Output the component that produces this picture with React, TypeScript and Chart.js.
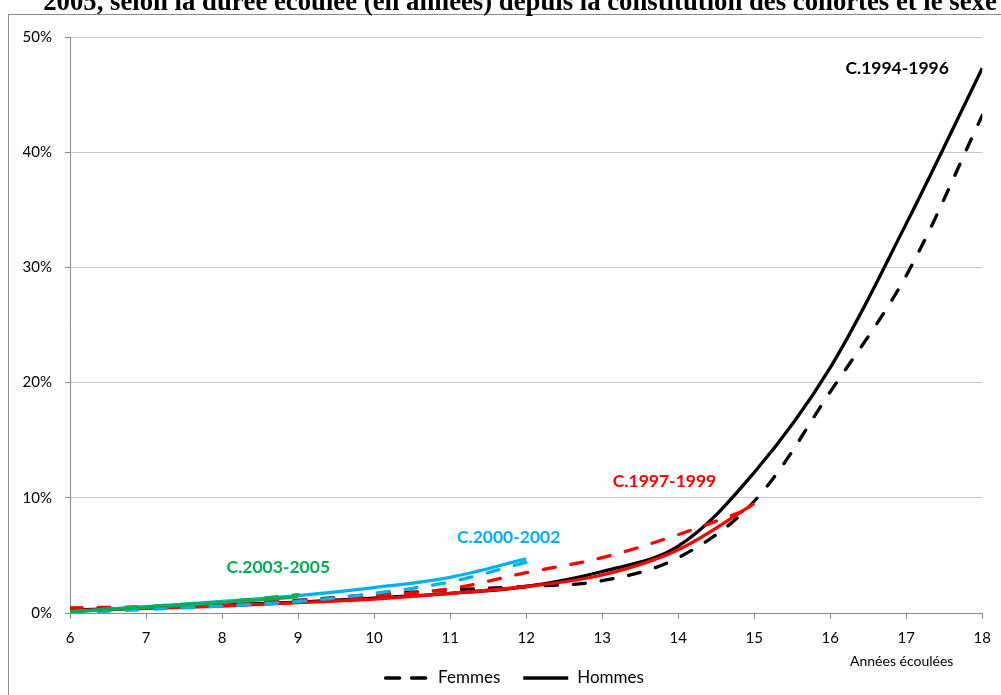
import React, { useEffect, useRef } from 'react';
import { Chart, registerables } from 'chart.js';

Chart.register(...registerables);

// ---- data (percent) ----
const years = [6, 7, 8, 9, 10, 11, 12, 13, 14, 15, 16, 17, 18];
const hommes9496 = [0.25, 0.45, 0.7, 0.95, 1.3, 1.7, 2.3, 3.6, 5.8, 12.2, 21.3, 33.8, 47.3];
const femmes9496 = [0.3, 0.5, 0.8, 1.1, 1.6, 2.0, 2.3, 2.8, 4.8, 9.7, 19.2, 29.3, 43.2];
const hommes9799 = [0.2, 0.4, 0.6, 0.9, 1.2, 1.7, 2.3, 3.3, 5.5, 9.5];
const femmes9799 = [0.45, 0.55, 0.8, 1.1, 1.5, 2.1, 3.5, 4.8, 6.8, 9.2];
const hommes0002 = [0.1, 0.55, 1.0, 1.5, 2.2, 3.1, 4.7];
const femmes0002 = [0.05, 0.3, 0.6, 1.0, 1.7, 2.7, 4.4];
const hommes0305 = [0.1, 0.5, 0.9, 1.4];
const femmes0305 = [0.1, 0.55, 0.95, 1.6];

const yTicks = [0, 10, 20, 30, 40, 50];
const cohortNames = ['C.2003-2005', 'C.2000-2002', 'C.1997-1999', 'C.1994-1996'];
const cohortColors = ['#00B050', '#00B0F0', '#FF0000', '#000000'];
const cohortLabelX = [8.74, 11.77, 13.82, 16.88];
const cohortLabelY = [4.0, 6.6, 11.45, 47.3];
const legendNames = ['Femmes', 'Hommes'];

const titleText =
  '2005, selon la durée écoulée (en années) depuis la constitution des cohortes et le sexe';
const xAxisText = 'Années écoulées';

const toPts = (vals: number[]) => vals.map((v, i) => ({ x: years[i], y: v }));

const DASH = [12, 16];
const LW = 3.3;
const FONT = 'Lato, "Open Sans", sans-serif';

function makeSet(label: string, vals: number[], color: string, dashed: boolean) {
  return {
    label,
    data: toPts(vals),
    borderColor: color,
    backgroundColor: color,
    borderWidth: LW,
    borderDash: dashed ? DASH : [],
    borderCapStyle: dashed ? 'round' : 'butt',
    pointRadius: 0,
    pointHoverRadius: 0,
    fill: false,
    tension: 0.35,
  };
}

const decorPlugin = {
  id: 'decor',
  beforeDraw(chart: any) {
    const { ctx } = chart;
    ctx.save();
    ctx.fillStyle = '#ffffff';
    ctx.fillRect(0, 0, chart.width, chart.height);
    ctx.strokeStyle = '#8a8a8a';
    ctx.lineWidth = 1;
    ctx.strokeRect(8.5, 14.5, 2000, 2000);
    // title (partially cut at top)
    ctx.fillStyle = '#000';
    ctx.font = 'bold 20px "Liberation Serif", "Times New Roman", serif';
    const w = ctx.measureText(titleText).width;
    const size = (20 * 954) / w;
    ctx.font = `bold ${size}px "Liberation Serif", "Times New Roman", serif`;
    ctx.textAlign = 'center';
    ctx.textBaseline = 'alphabetic';
    ctx.fillText(titleText, 520, 10);
    ctx.restore();
  },
  afterDraw(chart: any) {
    const { ctx } = chart;
    const xs = chart.scales.x;
    const ys = chart.scales.y;
    ctx.save();
    ctx.textAlign = 'center';
    ctx.textBaseline = 'middle';
    ctx.font = `bold 17.5px ${FONT}`;
    cohortNames.forEach((n, i) => {
      ctx.fillStyle = cohortColors[i];
      ctx.fillText(n, xs.getPixelForValue(cohortLabelX[i]), ys.getPixelForValue(cohortLabelY[i]));
    });
    ctx.fillStyle = '#000';
    ctx.font = `14px ${FONT}`;
    ctx.fillText(xAxisText, xs.getPixelForValue(16.94), chart.chartArea.bottom + 48);

    // legend
    ctx.font = `17px ${FONT}`;
    const sample = 45;
    const gapText = 9;
    const gapItem = 23;
    const widths = legendNames.map((t) => ctx.measureText(t).width);
    const total = widths.reduce((a, b) => a + b, 0) + 2 * (sample + gapText) + gapItem;
    let x = 514 - total / 2;
    const y = chart.chartArea.bottom + 65;
    legendNames.forEach((t, i) => {
      ctx.beginPath();
      ctx.strokeStyle = '#000';
      ctx.lineWidth = 3.5;
      ctx.lineCap = i === 0 ? 'round' : 'butt';
      ctx.setLineDash(i === 0 ? [14, 12] : []);
      ctx.moveTo(x + (i === 0 ? 1.5 : 0), y);
      ctx.lineTo(x + sample, y);
      ctx.stroke();
      ctx.setLineDash([]);
      ctx.fillStyle = '#000';
      ctx.textAlign = 'left';
      ctx.fillText(t, x + sample + gapText, y);
      x += sample + gapText + widths[i] + gapItem;
    });
    ctx.restore();
  },
};

export default function App() {
  const ref = useRef<HTMLCanvasElement>(null);

  useEffect(() => {
    if (!ref.current) return;
    Chart.defaults.font.family = FONT;
    const chart = new Chart(ref.current, {
      type: 'line',
      data: {
        datasets: [
          makeSet('Femmes 2003-2005', femmes0305, cohortColors[0], true),
          makeSet('Hommes 2003-2005', hommes0305, cohortColors[0], false),
          makeSet('Hommes 2000-2002', hommes0002, cohortColors[1], false),
          makeSet('Femmes 2000-2002', femmes0002, cohortColors[1], true),
          makeSet('Hommes 1997-1999', hommes9799, cohortColors[2], false),
          makeSet('Femmes 1997-1999', femmes9799, cohortColors[2], true),
          makeSet('Hommes 1994-1996', hommes9496, cohortColors[3], false),
          makeSet('Femmes 1994-1996', femmes9496, cohortColors[3], true),
        ] as any,
      },
      options: {
        responsive: false,
        animation: false,
        devicePixelRatio: 1,
        layout: { padding: { left: 10, right: 16, top: 37, bottom: 0 } },
        plugins: {
          tooltip: { enabled: false },
          title: { display: false },
          legend: { display: false },
        },
        scales: {
          x: {
            type: 'linear',
            min: 6,
            max: 18,
            afterFit: (s: any) => {
              s.height = 82;
            },
            ticks: { stepSize: 1, color: '#000', font: { size: 15 }, padding: 10, maxRotation: 0 },
            grid: {
              drawOnChartArea: false,
              drawTicks: true,
              tickLength: 6,
              color: '#8a8a8a',
              tickColor: '#8a8a8a',
            },
            border: { display: true, color: '#8a8a8a', width: 1 },
          },
          y: {
            type: 'linear',
            min: 0,
            max: 50,
            afterFit: (s: any) => {
              s.width = 60;
            },
            afterBuildTicks: (s: any) => {
              s.ticks = yTicks.map((v) => ({ value: v }));
            },
            ticks: {
              color: '#000',
              font: { size: 15 },
              padding: 13,
              callback: (v: any) => `${v}%`,
            },
            grid: {
              drawOnChartArea: true,
              drawTicks: true,
              tickLength: 5,
              color: '#c6c6c6',
              tickColor: '#8a8a8a',
            },
            border: { display: true, color: '#8a8a8a', width: 1 },
          },
        },
      },
      plugins: [decorPlugin],
    });
    return () => chart.destroy();
  }, []);

  return (
    <div
      style={{
        position: 'fixed',
        left: 0,
        top: 0,
        width: 1001,
        height: 695,
        overflow: 'hidden',
        background: '#fff',
      }}
    >
      <canvas ref={ref} width={1001} height={695} style={{ display: 'block' }} />
    </div>
  );
}
